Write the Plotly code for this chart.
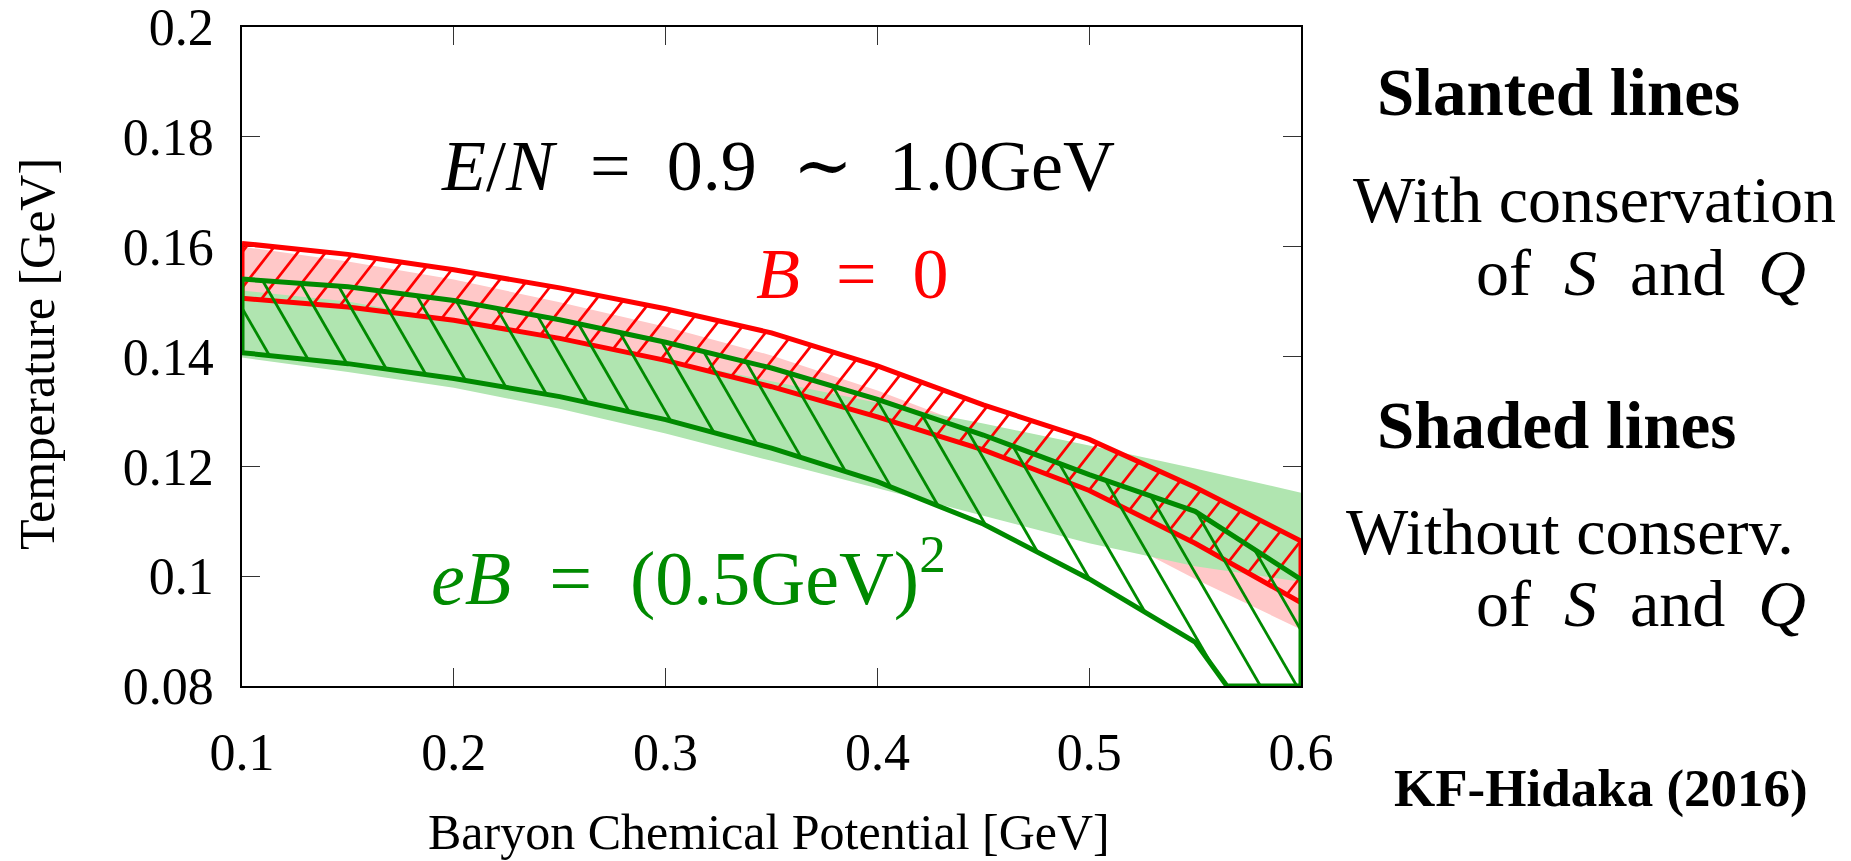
import numpy as np
import plotly.graph_objects as go

# ---------------- data ----------------
mu = [0.10, 0.15, 0.20, 0.25, 0.30, 0.35, 0.40, 0.45, 0.50, 0.55, 0.60]

# B = 0, with conservation of S and Q (red hatched band)
red_upper = [0.1606, 0.1586, 0.1558, 0.1525, 0.1487, 0.1443, 0.1383, 0.1312, 0.1249, 0.1162, 0.1064]
red_lower = [0.1506, 0.1490, 0.1466, 0.1433, 0.1393, 0.1345, 0.1290, 0.1230, 0.1156, 0.1060, 0.0952]

# eB = (0.5 GeV)^2, with conservation (green hatched band)
green_upper = [0.1541, 0.1527, 0.1502, 0.1467, 0.1426, 0.1379, 0.1322, 0.1257, 0.1185, 0.1118, 0.0994]
green_lower_mu = [0.10, 0.15, 0.20, 0.25, 0.30, 0.35, 0.40, 0.45, 0.50, 0.55, 0.5650, 0.60]
green_lower = [0.1407, 0.1387, 0.1360, 0.1327, 0.1285, 0.1233, 0.1172, 0.1095, 0.0995, 0.0880, 0.0800, 0.0800]

# B = 0, without conservation (pink shaded band)
pink_upper = [0.1600, 0.1573, 0.1540, 0.1499, 0.1454, 0.1402, 0.1338, 0.1265, 0.1195, 0.1128, 0.1060]
pink_lower = [0.1490, 0.1470, 0.1440, 0.1400, 0.1355, 0.1300, 0.1240, 0.1170, 0.1095, 0.0995, 0.0903]

# eB = (0.5 GeV)^2, without conservation (light green shaded band)
lgreen_upper = [0.1520, 0.1500, 0.1466, 0.1432, 0.1394, 0.1355, 0.1316, 0.1278, 0.1238, 0.1196, 0.1152]
lgreen_lower = [0.1398, 0.1372, 0.1343, 0.1305, 0.1260, 0.1210, 0.1160, 0.1110, 0.1060, 0.1018, 0.0990]

x_ticks = [0.1, 0.2, 0.3, 0.4, 0.5, 0.6]
x_ticklabels = ["0.1", "0.2", "0.3", "0.4", "0.5", "0.6"]
y_ticks = [0.08, 0.10, 0.12, 0.14, 0.16, 0.18, 0.20]
y_ticklabels = ["0.08", "0.1", "0.12", "0.14", "0.16", "0.18", "0.2"]

# ---------------- layout geometry ----------------
W, H = 1851, 861
ML, MR, MT, MB = 242, 550, 27, 175
PW, PH = W - ML - MR, H - MT - MB
X0, X1 = 0.1, 0.6
Y0, Y1 = 0.08, 0.2

RED = "#ff0000"
GREEN = "#008a00"
PINK = "#ffc8c8"
LGREEN = "#b0e5b0"
FONT = "Liberation Serif, DejaVu Serif, serif"


def band_polygon(xu, yu, xl, yl):
    px = list(xu) + list(xl)[::-1] + [xu[0]]
    py = list(yu) + list(yl)[::-1] + [yu[0]]
    return px, py


def hatch(poly_x, poly_y, angle_deg, spacing, phase=0.0):
    """Parallel lines (screen-space angle) clipped to a polygon, returned in data coords."""
    px = (np.asarray(poly_x) - X0) / (X1 - X0) * PW
    py = (np.asarray(poly_y) - Y0) / (Y1 - Y0) * PH
    th = np.radians(angle_deg)
    d = np.array([np.cos(th), np.sin(th)])
    n = np.array([-np.sin(th), np.cos(th)])
    s = px * n[0] + py * n[1]
    t = px * d[0] + py * d[1]
    start = np.floor((s.min() - phase) / spacing) * spacing + phase
    xs, ys = [], []
    m = len(s)
    for c in np.arange(start, s.max(), spacing):
        ts = []
        for i in range(m - 1):
            s1, s2 = s[i] - c, s[i + 1] - c
            if (s1 > 0) != (s2 > 0):
                f = s1 / (s1 - s2)
                ts.append(t[i] + f * (t[i + 1] - t[i]))
        ts.sort()
        for k in range(0, len(ts) - 1, 2):
            for tt in (ts[k], ts[k + 1]):
                qx = c * n[0] + tt * d[0]
                qy = c * n[1] + tt * d[1]
                xs.append(X0 + qx / PW * (X1 - X0))
                ys.append(Y0 + qy / PH * (Y1 - Y0))
            xs.append(None)
            ys.append(None)
    return xs, ys


fig = go.Figure()

# shaded bands (without conservation)
px_, py_ = band_polygon(mu, pink_upper, mu, pink_lower)
fig.add_trace(go.Scatter(x=px_, y=py_, fill="toself", fillcolor=PINK, mode="none",
                         hoverinfo="skip", showlegend=False))
px_, py_ = band_polygon(mu, lgreen_upper, mu, lgreen_lower)
fig.add_trace(go.Scatter(x=px_, y=py_, fill="toself", fillcolor=LGREEN, mode="none",
                         hoverinfo="skip", showlegend=False))

# red hatched band (with conservation)
rx, ry = band_polygon(mu, red_upper, mu, red_lower)
hx, hy = hatch(rx, ry, 52, 22, phase=3)
fig.add_trace(go.Scatter(x=hx, y=hy, mode="lines", line=dict(color=RED, width=2.7),
                         hoverinfo="skip", showlegend=False))
fig.add_trace(go.Scatter(x=rx, y=ry, mode="lines", line=dict(color=RED, width=5),
                         hoverinfo="skip", showlegend=False))

# green hatched band (with conservation)
gx, gy = band_polygon(mu, green_upper, green_lower_mu, green_lower)
hx, hy = hatch(gx, gy, 120, 31.5, phase=0)
fig.add_trace(go.Scatter(x=hx, y=hy, mode="lines", line=dict(color=GREEN, width=2.8),
                         hoverinfo="skip", showlegend=False))
fig.add_trace(go.Scatter(x=gx, y=gy, mode="lines", line=dict(color=GREEN, width=5),
                         hoverinfo="skip", showlegend=False))

axis_common = dict(showline=True, linecolor="black", linewidth=1.5, mirror="ticks",
                   ticks="inside", ticklen=18, tickwidth=1.3, tickcolor="#333333",
                   showgrid=False, zeroline=False, layer="below traces",
                   ticklabeloverflow="allow",
                   tickfont=dict(family=FONT, size=52, color="black"))

fig.update_xaxes(range=[X0, X1], tickvals=x_ticks, ticktext=x_ticklabels,
                 ticklabelstandoff=20, **axis_common)
fig.update_yaxes(range=[Y0, Y1], tickvals=y_ticks, ticktext=y_ticklabels,
                 ticklabelstandoff=16, **axis_common)


def px2paper(X, Y):
    return (X - ML) / PW, (H - MB - Y) / PH


def add_text(text, X, Y, size, color="black", angle=0):
    ax, ay = px2paper(X, Y)
    fig.add_annotation(text=text, x=ax, y=ay, xref="paper", yref="paper",
                       xanchor="center", yanchor="middle", showarrow=False,
                       textangle=angle, font=dict(family=FONT, size=size, color=color))


EN = "\u2002"
add_text("Baryon Chemical Potential [GeV]", 769, 832, 50)
add_text("Temperature [GeV]", 37, 354, 50, angle=-90)
add_text(f"<i>E</i>/<i>N</i>{EN}={EN}0.9{EN}∼{EN}1.0GeV", 778, 166, 72)
add_text(f"<i>B</i>{EN}={EN}0", 852, 274, 72, color=RED)
add_text(f"<i>eB</i>{EN}={EN}(0.5GeV)<sup>2</sup>", 688, 573, 76, color=GREEN)

add_text("<b>Slanted lines</b>", 1558, 92, 67)
add_text("With conservation", 1594, 199, 66)
add_text(f"of{EN}<i>S</i>{EN}and{EN}<i>Q</i>", 1641, 272, 66)
add_text("<b>Shaded lines</b>", 1556, 425, 67)
add_text("Without conserv.", 1570, 531, 66)
add_text(f"of{EN}<i>S</i>{EN}and{EN}<i>Q</i>", 1641, 603, 66)
add_text("<b>KF-Hidaka (2016)</b>", 1601, 788, 53)

fig.update_layout(width=W, height=H, margin=dict(l=ML, r=MR, t=MT, b=MB, autoexpand=False),
                  paper_bgcolor="white", plot_bgcolor="white", showlegend=False)

fig.write_html("out.html")
